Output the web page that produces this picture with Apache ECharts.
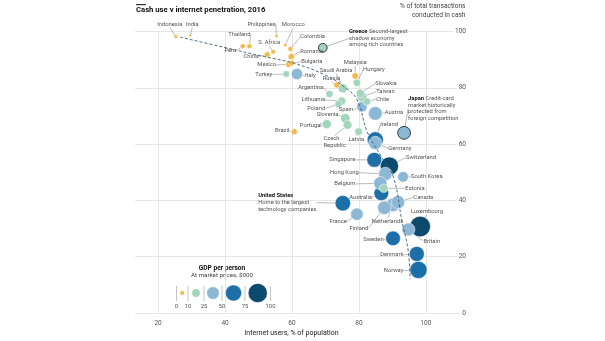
<!DOCTYPE html>
<html>
<head>
<meta charset="utf-8">
<script src="https://cdn.jsdelivr.net/npm/echarts@6/dist/echarts.min.js"></script>
<style>
  html, body { margin: 0; padding: 0; background: #fff; }
  #chart { width: 605px; height: 341px; }
</style>
</head>
<body>
<div id="chart"></div>
<script>
// Cash use v internet penetration, 2016
const countries = ['Indonesia','India','Peru','Thailand','Philippines','Morocco','S. Africa','China','Colombia','Romania',
  'Bulgaria','Mexico','Turkey','Italy','Brazil','Malaysia','Hungary','Saudi Arabia','Russia','Argentina',
  'Slovakia','Taiwan','Lithuania','Poland','Chile','Spain','Austria','Slovenia','Czech Republic','Portugal',
  'Latvia','Japan','Ireland','Germany','Singapore','Switzerland','Hong Kong','South Korea','Belgium','Estonia',
  'Australia','United States','Canada','Netherlands','Finland','France','Luxembourg','Britain','Sweden','Denmark',
  'Norway','Greece'];
// Internet users, % of population
const internetUsers = [25.3,29.6,45.3,47.3,55.4,58.0,54.4,52.6,59.5,59.8,
  59.9,59.0,58.3,61.5,60.7,78.9,79.4,75.2,73.4,71.2,
  80.4,80.9,74.9,73.9,82.4,80.9,84.9,75.9,76.6,70.4,
  79.9,93.5,84.9,84.9,84.6,89.1,87.9,93.2,86.4,87.4,
  86.7,75.2,91.7,90.2,87.6,79.4,98.3,94.8,90.2,97.3,
  97.8,69.2];
// % of total transactions conducted in cash
const cashShare = [98.2,98.6,94.8,94.8,98.4,95.2,92.8,91.8,93.8,91.1,
  88.8,88.3,84.9,84.9,64.4,84.2,81.8,79.8,81.0,77.8,
  78.0,76.8,75.3,74.2,75.1,73.3,70.9,69.2,66.8,67.1,
  64.4,64.0,61.5,60.4,54.4,52.2,49.4,48.4,46.1,44.3,
  42.5,39.0,39.4,38.4,37.4,35.1,30.7,29.7,26.5,21.0,
  15.3,94.2];
// GDP per person at market prices, $000
const gdpPerPerson = [3.6,1.7,6.0,6.0,2.9,2.9,5.3,8.1,5.8,9.5,
  7.4,8.4,10.8,30.5,8.7,9.5,12.8,20.0,8.7,12.4,
  16.5,22.5,14.9,12.4,13.8,26.5,44.7,21.3,18.5,19.8,
  14.1,38.9,62.5,42.1,52.9,79.6,43.7,27.5,41.1,17.7,
  51.0,57.6,42.3,45.6,43.4,36.9,100.7,40.4,51.6,53.6,
  70.9,18.1];

// Dashed trend curve through the cloud
const trendX = [26.6, 40.0, 52.0, 60.4, 70.0, 76.0, 79.5, 82.5, 86.5, 90.3, 92.9, 94.7, 95.3];
const trendY = [98.0, 94.3, 91.0, 88.8, 84.5, 80.0, 75.7, 64.3, 56.0, 48.3, 32.4, 22.4, 12.0];

const xTicks = [20, 40, 60, 80, 100];
const yTicks = [0, 20, 40, 60, 80, 100];
const gdpBands = [0, 10, 25, 50, 75, 100];
const legendSamples = [5, 17.5, 37.5, 62.5, 87.5];

const bandColours = ['#f2b84b', '#a3d5bd', '#8cb8d6', '#1d6fa8', '#0b4a6c'];
const highlighted = ['Greece', 'Japan'];

// label anchor offsets from each bubble centre: [dx, dy, align]
const labelPlacement = {
  'Indonesia': [-6, -12.5, 'center'], 'India': [2, -11, 'center'], 'Peru': [-6.5, 4.7, 'right'],
  'Thailand': [-10, -11.7, 'center'], 'Philippines': [-15, -11.7, 'center'], 'Morocco': [8, -20.7, 'center'],
  'S. Africa': [-4, -9, 'center'], 'China': [-9, 2, 'right'], 'Colombia': [10, -12, 'left'],
  'Romania': [9, -5, 'left'], 'Bulgaria': [9.5, -1.3, 'left'], 'Mexico': [-12.5, 0.5, 'right'],
  'Turkey': [-14, 0.5, 'right'], 'Italy': [8, 2, 'left'], 'Brazil': [-5, -0.7, 'right'],
  'Malaysia': [0, -13.3, 'center'], 'Hungary': [17, -12.7, 'center'], 'Saudi Arabia': [-6.7, -18.3, 'center'],
  'Russia': [3.3, -6.5, 'right'], 'Argentina': [-6.3, -6.7, 'right'], 'Slovakia': [15, -10, 'left'],
  'Taiwan': [14.3, -5, 'left'], 'Lithuania': [-16.7, -1, 'right'], 'Poland': [-13.3, 4.3, 'right'],
  'Chile': [9.3, -2.4, 'left'], 'Spain': [-8.7, 3.3, 'right'], 'Austria': [9.5, -0.6, 'left'],
  'Slovenia': [-6.7, -3.3, 'right'], 'Czech Republic': [-24, 17.2, 'left'], 'Portugal': [-5, 1, 'right'],
  'Latvia': [-2.3, 7.6, 'center'], 'Japan': [4, -24.2, 'left'], 'Ireland': [5, -15, 'left'],
  'Germany': [13, 5.3, 'left'], 'Singapore': [-19, 0, 'right'], 'Switzerland': [16.7, -8.7, 'left'],
  'Hong Kong': [-26.7, -1.3, 'right'], 'South Korea': [8, 0, 'left'], 'Belgium': [-25, 0.7, 'right'],
  'Estonia': [21.7, 0, 'left'], 'Australia': [-9.3, 4, 'right'], 'United States': [-84.7, -0.6, 'left'],
  'Canada': [15.3, -4.7, 'left'], 'Netherlands': [-5.5, 16.7, 'center'], 'Finland': [-16, 20.8, 'right'],
  'France': [-10, 7.4, 'right'], 'Luxembourg': [6.7, -15, 'center'], 'Britain': [15, 11.7, 'left'],
  'Sweden': [-9.4, 1, 'right'], 'Denmark': [-13.4, 1, 'right'], 'Norway': [-15, 0.7, 'right'],
  'Greece': [26.3, -9.4, 'left']
};

const labelText = {
  'Czech Republic': 'Czech\nRepublic',
  'Greece': '{b|Greece} Second-largest\nshadow economy\namong rich countries',
  'Japan': '{b|Japan} Credit-card\nmarket historically\nprotected from\nforeign competition',
  'United States': '{b|United States}\nHome to the largest\ntechnology companies'
};

const FONT = "Roboto, 'Noto Sans', sans-serif";

function bubbleSize(gdp) { return 2.05 * Math.sqrt(gdp); }
function bandColour(gdp) {
  for (let i = 1; i < gdpBands.length; i++) if (gdp < gdpBands[i]) return bandColours[i - 1];
  return bandColours[bandColours.length - 1];
}

// big bubbles first so smaller ones sit on top
const order = countries.map((c, i) => i).sort((a, b) => gdpPerPerson[b] - gdpPerPerson[a]);
const points = order.map(i => ({
  name: countries[i],
  value: [internetUsers[i], cashShare[i], gdpPerPerson[i]],
  itemStyle: highlighted.includes(countries[i]) ? { borderColor: '#2b3a44', borderWidth: 1 } : undefined
}));

const chart = echarts.init(document.getElementById('chart'), null, { renderer: 'canvas' });

const gridLeft = 135, gridRight = 466, gridTop = 31.5, gridBottom = 313;

// legend key drawn from the same size and colour scales
const legendGraphics = [];
const legendTickX = [176.5, 188, 204, 222, 245, 270.5];
legendSamples.forEach((v, i) => {
  const cx = (legendTickX[i] + legendTickX[i + 1]) / 2;
  legendGraphics.push({ type: 'circle', shape: { cx: cx, cy: 293, r: bubbleSize(v) / 2 },
    style: { fill: bandColours[i], stroke: '#fff', lineWidth: 0.5 }, z: 10 });
});
gdpBands.forEach((v, i) => {
  legendGraphics.push({ type: 'line', shape: { x1: legendTickX[i], y1: 286, x2: legendTickX[i], y2: 301 },
    style: { stroke: '#9a9a9a', lineWidth: 0.6 }, z: 10 });
  legendGraphics.push({ type: 'text', x: legendTickX[i], y: 307,
    style: { text: String(v), fill: '#555', font: '5.8px ' + FONT, textAlign: 'center', textVerticalAlign: 'middle' }, z: 10 });
});

chart.setOption({
  animation: false,
  backgroundColor: '#fff',
  grid: { left: gridLeft, right: 605 - gridRight, top: gridTop, bottom: 341 - gridBottom, containLabel: false },
  xAxis: {
    type: 'value', min: 13.1, max: 112,
    axisLine: { show: false }, axisTick: { show: false, customValues: xTicks },
    axisLabel: { customValues: xTicks, color: '#555', fontSize: 6.5, fontFamily: FONT, margin: 7 },
    splitLine: { show: true, lineStyle: { color: '#dcdcdc', width: 0.7 } }
  },
  yAxis: {
    type: 'value', min: 0, max: 100, interval: 20, position: 'right',
    axisLine: { show: false }, axisTick: { show: false },
    axisLabel: { inside: true, margin: 0, color: '#555', fontSize: 6.5, fontFamily: FONT,
      backgroundColor: '#fff', padding: [0, 0, 1, 2], verticalAlign: 'middle' },
    splitLine: { show: true, lineStyle: { color: '#dcdcdc', width: 0.7 } }
  },
  graphic: [
    { type: 'rect', shape: { x: 136, y: 4, width: 10, height: 1.2 }, style: { fill: '#333' } },
    { type: 'text', x: 136, y: 10.5, style: { text: 'Cash use v internet penetration, 2016', fill: '#111',
      font: 'bold 7.7px ' + FONT, textVerticalAlign: 'middle' } },
    { type: 'text', x: 465.5, y: 6, style: { text: '% of total transactions', fill: '#444',
      font: '6.6px ' + FONT, textAlign: 'right', textVerticalAlign: 'middle' } },
    { type: 'text', x: 465.5, y: 15, style: { text: 'conducted in cash', fill: '#444',
      font: '6.6px ' + FONT, textAlign: 'right', textVerticalAlign: 'middle' } },
    { type: 'text', x: 291.5, y: 333, style: { text: 'Internet users, % of population', fill: '#222',
      font: '7px ' + FONT, textAlign: 'center', textVerticalAlign: 'middle' } },
    { type: 'text', x: 222, y: 268, style: { text: 'GDP per person', fill: '#111',
      font: 'bold 6.6px ' + FONT, textAlign: 'center', textVerticalAlign: 'middle' } },
    { type: 'text', x: 222, y: 275.5, style: { text: 'At market prices, $000', fill: '#444',
      font: '6.2px ' + FONT, textAlign: 'center', textVerticalAlign: 'middle' } }
  ].concat(legendGraphics),
  series: [
    {
      type: 'scatter', clip: false, z: 3,
      data: points,
      symbolSize: v => bubbleSize(v[2]),
      itemStyle: { color: p => bandColour(p.value[2]), borderColor: '#fff', borderWidth: 0.5, opacity: 1 },
      label: {
        show: true, position: 'inside',
        formatter: p => labelText[p.name] || p.name,
        color: '#555', fontSize: 5.8, fontFamily: FONT, lineHeight: 6.6,
        rich: { b: { fontWeight: 'bold', color: '#111', fontSize: 5.8, fontFamily: FONT, lineHeight: 6.6 } }
      },
      labelLine: { show: true, smooth: 0.3, length2: 0, lineStyle: { color: '#8a8a8a', width: 0.6 } },
      labelLayout: function (p) {
        const pl = labelPlacement[points[p.dataIndex].name] || [0, 0, 'center'];
        const cx = p.rect.x + p.rect.width / 2, cy = p.rect.y + p.rect.height / 2;
        return { x: cx + pl[0], y: cy + pl[1], align: pl[2], verticalAlign: 'middle' };
      }
    },
    {
      type: 'line', z: 4, smooth: 0.4, symbol: 'none', silent: true,
      data: trendX.map((x, i) => [x, trendY[i]]),
      lineStyle: { color: '#3f5d72', width: 0.9, type: [3, 2] }
    }
  ]
});
</script>
</body>
</html>
